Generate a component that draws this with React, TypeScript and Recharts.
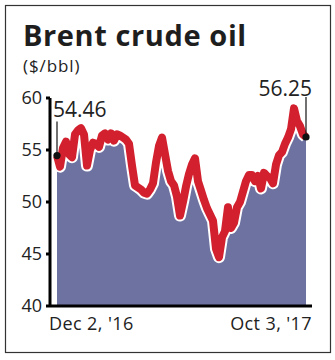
import React from 'react';
import { ComposedChart, Area, Line, XAxis, YAxis, ReferenceDot } from 'recharts';

const prices = [
  54.46, 53.4, 55.2, 55.8, 54.6, 54.3, 56.5, 56.9, 57.1, 56.5,
  53.5, 55.0, 55.7, 55.6, 55.3, 56.4, 56.6, 56.0, 56.6, 55.9,
  56.5, 56.4, 56.2, 56.0, 55.6, 53.5, 51.6, 51.4, 51.2, 50.9,
  50.8, 51.2, 51.8, 53.8, 55.4, 56.2, 54.6, 53.0, 52.0, 51.6,
  50.5, 48.7, 50.0, 51.5, 52.7, 53.6, 54.2, 52.0, 51.1, 50.2,
  49.4, 48.8, 48.2, 45.5, 44.7, 46.6, 47.2, 49.5, 47.5, 48.0,
  49.5, 50.0, 51.0, 52.0, 52.6, 52.6, 52.0, 52.5, 51.3, 52.8,
  52.5, 52.3, 51.8, 53.6, 54.5, 54.8, 55.6, 56.2, 57.0, 59.0,
  57.8, 57.3, 56.5, 56.25,
];
const xTickLabels = ["Dec 2, '16", "Oct 3, '17"];
const yTicks = [40, 45, 50, 55, 60];
const startLabel = '54.46';
const endLabel = '56.25';
const title = 'Brent crude oil';
const subtitle = '($/bbl)';

const lastIdx = prices.length - 1;
const data = prices.map((p, i) => ({ i, p }));

const FONT = '"Open Sans", sans-serif';

const XTick = (props: any) => {
  const { x, y, payload } = props;
  const first = payload.value === 0;
  return (
    <text
      x={first ? x - 8 : x + 6}
      y={y + 16}
      textAnchor={first ? 'start' : 'end'}
      fontFamily={FONT}
      fontSize={18}
      letterSpacing={0.4}
      fill="#222"
    >
      {first ? xTickLabels[0] : xTickLabels[1]}
    </text>
  );
};

const StartDot = (props: any) => {
  const { cx, cy } = props;
  return (
    <g>
      <line x1={cx} y1={cy - 34} x2={cx} y2={cy} stroke="#111" strokeWidth={1.2} />
      <circle cx={cx} cy={cy} r={3.6} fill="#111" />
      <text x={cx - 4} y={cy - 39} fontFamily={FONT} fontSize={21} fill="#222">
        {startLabel}
      </text>
    </g>
  );
};

const EndDot = (props: any) => {
  const { cx, cy } = props;
  return (
    <g>
      <line x1={cx} y1={cy - 40} x2={cx} y2={cy} stroke="#111" strokeWidth={1.2} />
      <circle cx={cx} cy={cy} r={3.6} fill="#111" />
      <text x={cx + 6} y={cy - 41} textAnchor="end" fontFamily={FONT} fontSize={21} fill="#222">
        {endLabel}
      </text>
    </g>
  );
};

export default function App() {
  return (
    <div style={{ position: 'absolute', left: 0, top: 0, width: 335, height: 360, background: '#fff' }}>
      <ComposedChart
        width={335}
        height={360}
        data={data}
        margin={{ top: 98, right: 23, bottom: 24, left: 0 }}
      >
        <XAxis
          dataKey="i"
          type="number"
          domain={[0, lastIdx]}
          ticks={[0, lastIdx]}
          padding={{ left: 7, right: 6 }}
          height={30}
          tickLine={false}
          tickSize={6}
          tickMargin={2}
          axisLine={{ stroke: '#000', strokeWidth: 3 }}
          tick={<XTick />}
          interval={0}
        />
        <YAxis
          type="number"
          domain={[40, 60]}
          ticks={yTicks}
          width={50}
          tickSize={4}
          tickMargin={4}
          axisLine={{ stroke: '#000', strokeWidth: 3 }}
          tickLine={{ stroke: '#000', strokeWidth: 3 }}
          tick={{ fill: '#222', fontSize: 18, fontFamily: FONT }}
          interval={0}
        />
        <Area
          type="linear"
          dataKey="p"
          fill="#6e72a1"
          fillOpacity={1}
          stroke="none"
          isAnimationActive={false}
        />
        <Line
          type="linear"
          dataKey="p"
          stroke="#ffffff"
          strokeWidth={12}
          strokeLinejoin="round"
          dot={false}
          activeDot={false}
          isAnimationActive={false}
        />
        <Line
          type="linear"
          dataKey="p"
          stroke="#d2202e"
          strokeWidth={8}
          strokeLinejoin="round"
          dot={false}
          activeDot={false}
          isAnimationActive={false}
        />
        <ReferenceDot x={0} y={prices[0]} r={3.6} shape={StartDot} />
        <ReferenceDot x={lastIdx} y={prices[lastIdx]} r={3.6} shape={EndDot} />
      </ComposedChart>
      <svg
        width={335}
        height={360}
        style={{ position: 'absolute', left: 0, top: 0, pointerEvents: 'none' }}
      >
        <rect x={5.5} y={5.5} width={325} height={347} fill="none" stroke="#333" strokeWidth={1.2} />
        <text x={23} y={46} fontFamily={FONT} fontWeight={700} fontSize={29} fill="#1e1e1e" letterSpacing={0.6}>
          {title}
        </text>
        <text x={23} y={72} fontFamily={FONT} fontSize={17} fill="#222" letterSpacing={0.9}>
          {subtitle}
        </text>
      </svg>
    </div>
  );
}
